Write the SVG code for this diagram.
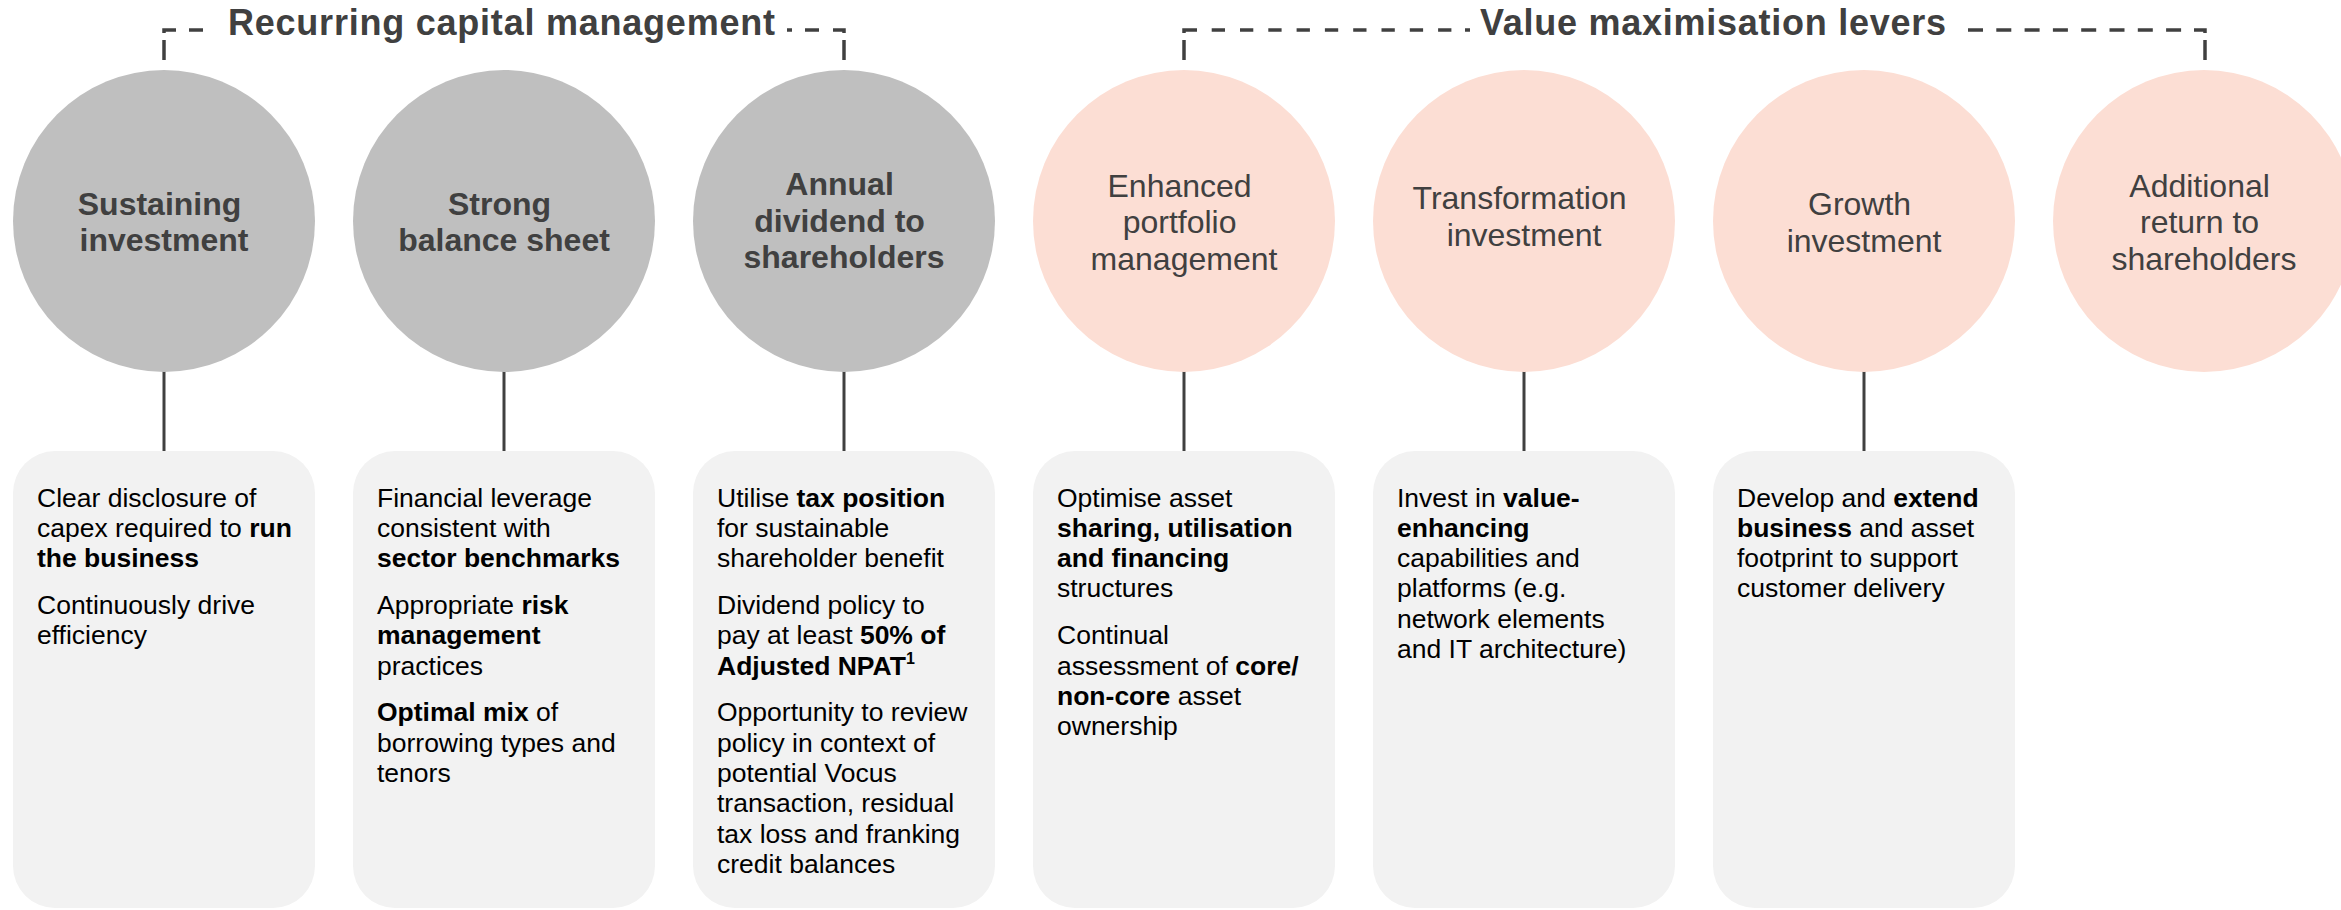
<svg xmlns="http://www.w3.org/2000/svg" width="2341" height="910" viewBox="0 0 2341 910">
  <style>
    .bg { fill: #ffffff; }
    .grey { fill: #bfbfbf; }
    .pink { fill: #fcded4; }
    .card { fill: #f2f2f2; }
    .conn { stroke: #404040; stroke-width: 3; fill: none; }
    .brk { stroke: #404040; stroke-width: 3.5; fill: none; }
    .title { font-family: "Liberation Sans", Arial, sans-serif; font-size: 36px; font-weight: bold; fill: #404040; }
    .head { font-family: "Liberation Sans", Arial, sans-serif; font-size: 32px; fill: #404040; text-anchor: middle; }
    .headb { font-weight: bold; }
    .body { font-family: "Liberation Sans", Arial, sans-serif; font-size: 26.5px; fill: #000000; }
    .b { font-weight: bold; }
  </style>

  <rect class="bg" x="0" y="0" width="2341" height="910"/>

  <!-- group brackets with their titles -->
  <g id="brackets">
    <g id="bracket-recurring">
      <line class="brk" x1="164" y1="40" x2="164" y2="60"/>
      <path class="brk" d="M164,33 V30 H176"/>
      <line class="brk" x1="189" y1="30" x2="203" y2="30"/>
      <line class="brk" x1="787" y1="30" x2="792" y2="30"/>
      <line class="brk" x1="805" y1="30" x2="819" y2="30"/>
      <path class="brk" d="M833,30 H844 V33"/>
      <line class="brk" x1="844" y1="40" x2="844" y2="60"/>
      <text class="title" x="228" y="35" textLength="547" lengthAdjust="spacing">Recurring capital management</text>
    </g>
    <g id="bracket-value">
      <line class="brk" x1="1184" y1="40" x2="1184" y2="60"/>
      <path class="brk" d="M1184,33 V30 H1197"/>
      <line class="brk" x1="1211.7" y1="30" x2="1452" y2="30" stroke-dasharray="13.3 15"/>
      <line class="brk" x1="1465" y1="30" x2="1470" y2="30"/>
      <line class="brk" x1="1968" y1="30" x2="2190" y2="30" stroke-dasharray="15 13.3"/>
      <path class="brk" d="M2194,30 H2205 V33"/>
      <line class="brk" x1="2205" y1="40" x2="2205" y2="60"/>
      <text class="title" x="1480" y="35" textLength="466" lengthAdjust="spacing">Value maximisation levers</text>
    </g>
  </g>

  <!-- stems linking each circle to its card -->
  <g id="connectors">
    <line class="conn" x1="164" y1="371" x2="164" y2="452"/>
    <line class="conn" x1="504" y1="371" x2="504" y2="452"/>
    <line class="conn" x1="844" y1="371" x2="844" y2="452"/>
    <line class="conn" x1="1184" y1="371" x2="1184" y2="452"/>
    <line class="conn" x1="1524" y1="371" x2="1524" y2="452"/>
    <line class="conn" x1="1864" y1="371" x2="1864" y2="452"/>
  </g>

  <!-- recurring capital management -->
  <g id="sustaining-investment">
    <circle class="grey" cx="164" cy="221" r="151"/>
    <text class="head headb">
      <tspan x="164" y="214.5">Sustaining</tspan>
      <tspan x="164" y="251">investment</tspan>
    </text>
    <rect class="card" x="13" y="451" width="302" height="457" rx="42" ry="42"/>
    <text class="body">
      <tspan x="37" y="506.5">Clear disclosure of</tspan>
      <tspan x="37" y="536.8">capex required to <tspan class="b">run</tspan></tspan>
      <tspan x="37" y="567.1" class="b">the business</tspan>
      <tspan x="37" y="613.9">Continuously drive</tspan>
      <tspan x="37" y="644.2">efficiency</tspan>
    </text>
  </g>

  <g id="strong-balance-sheet">
    <circle class="grey" cx="504" cy="221" r="151"/>
    <text class="head headb">
      <tspan x="504" y="214.5">Strong</tspan>
      <tspan x="504" y="251">balance sheet</tspan>
    </text>
    <rect class="card" x="353" y="451" width="302" height="457" rx="42" ry="42"/>
    <text class="body">
      <tspan x="377" y="506.5">Financial leverage</tspan>
      <tspan x="377" y="536.8">consistent with</tspan>
      <tspan x="377" y="567.1" class="b">sector benchmarks</tspan>
      <tspan x="377" y="613.9">Appropriate <tspan class="b">risk</tspan></tspan>
      <tspan x="377" y="644.2" class="b">management</tspan>
      <tspan x="377" y="674.5">practices</tspan>
      <tspan x="377" y="721.3"><tspan class="b">Optimal mix</tspan> of</tspan>
      <tspan x="377" y="751.6">borrowing types and</tspan>
      <tspan x="377" y="781.9">tenors</tspan>
    </text>
  </g>

  <g id="annual-dividend">
    <circle class="grey" cx="844" cy="221" r="151"/>
    <text class="head headb">
      <tspan x="844" y="195">Annual</tspan>
      <tspan x="844" y="231.5">dividend to</tspan>
      <tspan x="844" y="268">shareholders</tspan>
    </text>
    <rect class="card" x="693" y="451" width="302" height="457" rx="42" ry="42"/>
    <text class="body">
      <tspan x="717" y="506.5">Utilise <tspan class="b">tax position</tspan></tspan>
      <tspan x="717" y="536.8">for sustainable</tspan>
      <tspan x="717" y="567.1">shareholder benefit</tspan>
      <tspan x="717" y="613.9">Dividend policy to</tspan>
      <tspan x="717" y="644.2">pay at least <tspan class="b">50% of</tspan></tspan>
      <tspan x="717" y="674.5" class="b">Adjusted NPAT<tspan font-size="16" dy="-11">1</tspan></tspan>
      <tspan x="717" y="721.3">Opportunity to review</tspan>
      <tspan x="717" y="751.6">policy in context of</tspan>
      <tspan x="717" y="781.9">potential Vocus</tspan>
      <tspan x="717" y="812.2">transaction, residual</tspan>
      <tspan x="717" y="842.5">tax loss and franking</tspan>
      <tspan x="717" y="872.8">credit balances</tspan>
    </text>
  </g>

  <!-- value maximisation levers -->
  <g id="portfolio-management">
    <circle class="pink" cx="1184" cy="221" r="151"/>
    <text class="head">
      <tspan x="1184" y="196.7">Enhanced</tspan>
      <tspan x="1184" y="233.3">portfolio</tspan>
      <tspan x="1184" y="270">management</tspan>
    </text>
    <rect class="card" x="1033" y="451" width="302" height="457" rx="42" ry="42"/>
    <text class="body">
      <tspan x="1057" y="506.5">Optimise asset</tspan>
      <tspan x="1057" y="536.8" class="b">sharing, utilisation</tspan>
      <tspan x="1057" y="567.1" class="b">and financing</tspan>
      <tspan x="1057" y="597.4">structures</tspan>
      <tspan x="1057" y="644.2">Continual</tspan>
      <tspan x="1057" y="674.5">assessment of <tspan class="b">core/</tspan></tspan>
      <tspan x="1057" y="704.8"><tspan class="b">non-core</tspan> asset</tspan>
      <tspan x="1057" y="735.1">ownership</tspan>
    </text>
  </g>

  <g id="transformation-investment">
    <circle class="pink" cx="1524" cy="221" r="151"/>
    <text class="head">
      <tspan x="1524" y="209.3">Transformation</tspan>
      <tspan x="1524" y="246">investment</tspan>
    </text>
    <rect class="card" x="1373" y="451" width="302" height="457" rx="42" ry="42"/>
    <text class="body">
      <tspan x="1397" y="506.5">Invest in <tspan class="b">value-</tspan></tspan>
      <tspan x="1397" y="536.8" class="b">enhancing</tspan>
      <tspan x="1397" y="567.1">capabilities and</tspan>
      <tspan x="1397" y="597.4">platforms (e.g.</tspan>
      <tspan x="1397" y="627.7">network elements</tspan>
      <tspan x="1397" y="658">and IT architecture)</tspan>
    </text>
  </g>

  <g id="growth-investment">
    <circle class="pink" cx="1864" cy="221" r="151"/>
    <text class="head">
      <tspan x="1864" y="215">Growth</tspan>
      <tspan x="1864" y="252">investment</tspan>
    </text>
    <rect class="card" x="1713" y="451" width="302" height="457" rx="42" ry="42"/>
    <text class="body">
      <tspan x="1737" y="506.5">Develop and <tspan class="b">extend</tspan></tspan>
      <tspan x="1737" y="536.8"><tspan class="b">business</tspan> and asset</tspan>
      <tspan x="1737" y="567.1">footprint to support</tspan>
      <tspan x="1737" y="597.4">customer delivery</tspan>
    </text>
  </g>

  <g id="additional-return">
    <circle class="pink" cx="2204" cy="221" r="151"/>
    <text class="head">
      <tspan x="2204" y="196.7">Additional</tspan>
      <tspan x="2204" y="233.3">return to</tspan>
      <tspan x="2204" y="270">shareholders</tspan>
    </text>
  </g>
</svg>
